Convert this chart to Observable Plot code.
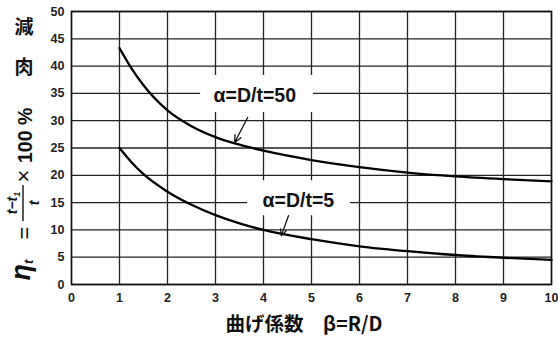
<!DOCTYPE html>
<html>
<head>
<meta charset="utf-8">
<script src="https://cdn.jsdelivr.net/npm/d3@7"></script>
<script src="https://cdn.jsdelivr.net/npm/@observablehq/plot@0.6"></script>
<style>
  html, body { margin: 0; padding: 0; background: #fff; }
  #chart { width: 558px; height: 337px; }
</style>
</head>
<body>
<div id="chart"></div>
<script>
const beta = [1, 1.25, 1.5, 2, 2.5, 3, 3.5, 4, 5, 6, 7, 8, 9, 10];
const eta50 = [43.3, 39.6, 36.5, 31.9, 29.0, 27.0, 25.6, 24.5, 22.8, 21.5, 20.5, 19.8, 19.3, 18.9];
const eta5  = [25.0, 22.4, 20.2, 17.0, 14.6, 12.7, 11.2, 10.0, 8.3, 7.0, 6.1, 5.4, 4.9, 4.5];
const xTicks = [0, 1, 2, 3, 4, 5, 6, 7, 8, 9, 10];
const yTicks = [0, 5, 10, 15, 20, 25, 30, 35, 40, 45, 50];
const labels = ["α=D/t=50", "α=D/t=5"];
const xTitle = "曲げ係数　β=R/D";

const s50 = beta.map((b, i) => ({beta: b, eta: eta50[i]}));
const s5 = beta.map((b, i) => ({beta: b, eta: eta5[i]}));

const font = "'Liberation Sans', Arial, sans-serif";

const chart = Plot.plot({
  width: 558,
  height: 337,
  marginLeft: 71,
  marginRight: 7,
  marginTop: 11,
  marginBottom: 53,
  style: {fontFamily: font, background: "#fff"},
  x: {domain: [0, 10], ticks: xTicks, label: null},
  y: {domain: [0, 50], ticks: yTicks, label: null},
  marks: [
    Plot.gridX(xTicks, {stroke: "#222", strokeOpacity: 1, strokeWidth: 1.3}),
    Plot.gridY(yTicks, {stroke: "#222", strokeOpacity: 1, strokeWidth: 1.3}),
    Plot.rect([{x1: 2.69, x2: 5.04, y1: 31.5, y2: 38.3}, {x1: 3.67, x2: 5.81, y1: 12.6, y2: 19.0}],
      {x1: "x1", x2: "x2", y1: "y1", y2: "y2", fill: "#fff"}),
    Plot.line(s50, {x: "beta", y: "eta", curve: "monotone-x", stroke: "#000", strokeWidth: 2.3}),
    Plot.line(s5, {x: "beta", y: "eta", curve: "monotone-x", stroke: "#000", strokeWidth: 2.3}),
    Plot.text([labels[0]], {x: 2.96, y: 34.6, text: d => d, textAnchor: "start", fontSize: 19.5, fontWeight: "bold", fill: "#111"}),
    Plot.text([labels[1]], {x: 3.98, y: 15.4, text: d => d, textAnchor: "start", fontSize: 19.5, fontWeight: "bold", fill: "#111"}),
    Plot.arrow([{x1: 3.67, y1: 30.6, x2: 3.40, y2: 26.0}], {x1: "x1", y1: "y1", x2: "x2", y2: "y2", stroke: "#111", strokeWidth: 1.3, headLength: 9, headAngle: 50}),
    Plot.arrow([{x1: 4.52, y1: 12.6, x2: 4.37, y2: 8.9}], {x1: "x1", y1: "y1", x2: "x2", y2: "y2", stroke: "#111", strokeWidth: 1.3, headLength: 9, headAngle: 50}),
    Plot.frame({stroke: "#111", strokeWidth: 1.5}),
    Plot.axisX(xTicks, {tickSize: 0, tickPadding: 9, fontSize: 12.5, fontWeight: "bold", fill: "#222", label: null, tickFormat: d => d}),
    Plot.axisY(yTicks, {tickSize: 0, tickPadding: 7, fontSize: 12.5, fontWeight: "bold", fill: "#222", label: null, tickFormat: d => d})
  ]
});

const svg = d3.select(chart.tagName.toLowerCase() === "svg" ? chart : chart.querySelector("svg"));

// x title
svg.append("text")
  .attr("x", 304).attr("y", 331)
  .attr("text-anchor", "middle")
  .attr("font-family", "'Noto Sans CJK JP', sans-serif")
  .attr("font-size", 19.5).attr("font-weight", "bold").attr("fill", "#111")
  .text(xTitle);

// y title: 減 肉
const cjk = "'Noto Sans CJK JP', sans-serif";
svg.append("text").attr("x", 24).attr("y", 34).attr("text-anchor", "middle")
  .attr("font-family", cjk).attr("font-size", 19).attr("font-weight", "bold").attr("fill", "#111").text("減");
svg.append("text").attr("x", 24).attr("y", 74).attr("text-anchor", "middle")
  .attr("font-family", cjk).attr("font-size", 19).attr("font-weight", "bold").attr("fill", "#111").text("肉");

// rotated formula
const g = svg.append("g").attr("transform", "translate(32,0) rotate(-90)")
  .attr("font-family", font).attr("fill", "#111");
const eta = g.append("text").attr("x", -270).attr("y", -2)
  .attr("font-size", 27).attr("font-weight", "bold").attr("font-style", "italic");
eta.append("tspan").text("η");
eta.append("tspan").attr("font-size", 13).attr("dy", 3).text("t");
g.append("text").attr("x", -233).attr("y", -8).attr("dominant-baseline", "central").attr("text-anchor", "middle")
  .attr("font-size", 22).text("=");
const num = g.append("text").attr("x", -203).attr("y", -15).attr("text-anchor", "middle")
  .attr("font-size", 14).attr("font-weight", "bold").attr("font-style", "italic");
num.append("tspan").text("t−t");
num.append("tspan").attr("font-size", 9).attr("dy", 3).text("1");
g.append("line").attr("x1", -221).attr("x2", -185).attr("y1", -9).attr("y2", -9)
  .attr("stroke", "#111").attr("stroke-width", 1.4);
g.append("text").attr("x", -203).attr("y", 7).attr("text-anchor", "middle")
  .attr("font-size", 14).attr("font-weight", "bold").attr("font-style", "italic").text("t");
g.append("text").attr("x", -176).attr("y", -9).attr("dominant-baseline", "central").attr("text-anchor", "middle")
  .attr("font-size", 22).text("×");
g.append("text").attr("x", -163).attr("y", 0).attr("text-anchor", "start")
  .attr("font-size", 19.5).attr("font-weight", "bold").text("100 %");

document.getElementById("chart").appendChild(chart);
</script>
</body>
</html>
